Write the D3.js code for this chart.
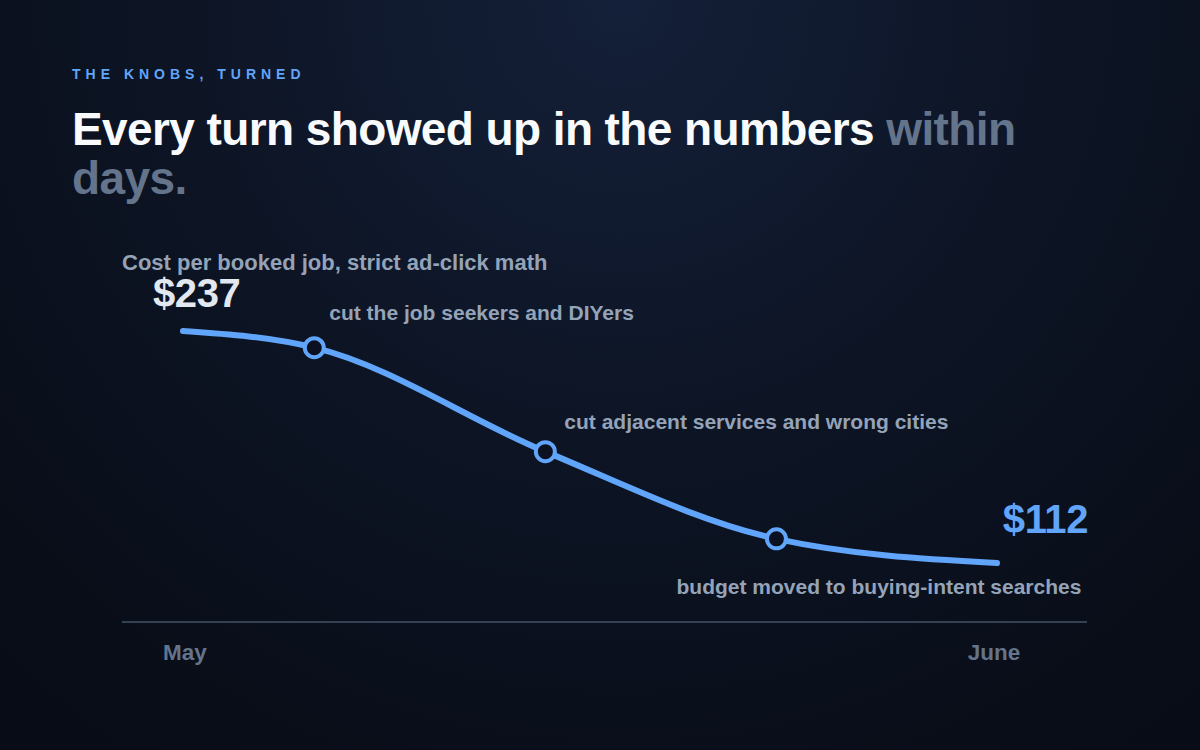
<!DOCTYPE html>
<html>
<head>
<meta charset="utf-8">
<script src="https://cdn.jsdelivr.net/npm/d3@7"></script>
<style>
	html, body { margin: 0; padding: 0; background: #0a0f1b; }
	svg { display: block; font-family: "Liberation Sans", Arial, Helvetica, sans-serif; }
</style>
</head>
<body>
<svg id="chart" width="1200" height="750"></svg>
<script>
// Cost per booked job across the month (days since May 1)
const days = [0, 5, 13.8, 22.6, 31];
const costs = [237, 228, 172, 125, 112];
const notes = ["", "cut the job seekers and DIYers", "cut adjacent services and wrong cities", "budget moved to buying-intent searches", ""];
const tickDays = [0, 31];
const tickLabels = ["May", "June"];

const data = days.map((d, i) => ({ day: d, value: costs[i], note: notes[i] }));

const svg = d3.select("#chart");
const W = 1200, H = 750;

// background
const defs = svg.append("defs");
const bg = defs.append("radialGradient")
	.attr("id", "bg")
	.attr("gradientUnits", "userSpaceOnUse")
	.attr("cx", 620).attr("cy", 0).attr("r", 900);
bg.append("stop").attr("offset", "0%").attr("stop-color", "#142039");
bg.append("stop").attr("offset", "55%").attr("stop-color", "#0c1322");
bg.append("stop").attr("offset", "100%").attr("stop-color", "#080c16");

svg.append("rect")
	.attr("width", W)
	.attr("height", H)
	.attr("fill", "url(#bg)");

// heading
svg.append("text")
	.attr("x", 72)
	.attr("y", 79)
	.attr("fill", "#60a5fa")
	.attr("font-size", 14)
	.attr("font-weight", 700)
	.attr("letter-spacing", 5)
	.text("THE KNOBS, TURNED");

const title = svg.append("text")
	.attr("x", 72)
	.attr("y", 145)
	.attr("font-size", 46)
	.attr("font-weight", 700)
	.attr("letter-spacing", -0.6);
title.append("tspan").attr("fill", "#f8fafc").text("Every turn showed up in the numbers ");
title.append("tspan").attr("fill", "#64748b").text("within");
svg.append("text")
	.attr("x", 72)
	.attr("y", 194)
	.attr("font-size", 46)
	.attr("font-weight", 700)
	.attr("letter-spacing", -0.6)
	.attr("fill", "#64748b")
	.text("days.");

// scales
let x = d3.scaleLinear()
	.domain([0, 31])
	.range([ 183, 997 ]);

let y = d3.scaleLinear()
	.domain([112, 237])
	.range([ 563, 331 ]);

// baseline axis
svg.append("line")
	.attr("x1", 122)
	.attr("x2", 1087)
	.attr("y1", 622)
	.attr("y2", 622)
	.attr("stroke", "#334155")
	.attr("stroke-width", 2);

svg.selectAll(".tick-label")
	.data(tickDays)
	.enter()
	.append("text")
		.attr("class", "tick-label")
		.attr("x", (d, i) => x(d) + (i === 0 ? 2 : -3))
		.attr("y", 660)
		.attr("text-anchor", "middle")
		.attr("fill", "#64748b")
		.attr("font-size", 22.5)
		.attr("font-weight", 700)
		.text((d, i) => tickLabels[i]);

svg.append("text")
	.attr("x", 122)
	.attr("y", 270)
	.attr("fill", "#94a3b8")
	.attr("font-size", 22)
	.attr("font-weight", 700)
	.text("Cost per booked job, strict ad-click math");

// line
let line = d3.line()
	.x(d => x(d.day))
	.y(d => y(d.value))
	.curve(d3.curveMonotoneX);

svg.append("path")
	.datum(data)
	.attr("d", line)
	.attr("fill", "none")
	.attr("stroke", "#60a5fa")
	.attr("stroke-width", 6)
	.attr("stroke-linecap", "round");

// markers at each turn
let turns = data.filter(d => d.note !== "");

svg.selectAll(".turn")
	.data(turns)
	.enter()
	.append("circle")
		.attr("class", "turn")
		.attr("cx", d => x(d.day))
		.attr("cy", d => y(d.value))
		.attr("r", 9.5)
		.attr("fill", "#0b1120")
		.attr("stroke", "#60a5fa")
		.attr("stroke-width", 4);

// annotations: first two above-right, last one below, right-aligned
const noteOffsets = [
	{ dx: 15, dy: -28, anchor: "start" },
	{ dx: 19, dy: -23, anchor: "start" },
	{ dx: 305, dy: 55, anchor: "end" }
];

svg.selectAll(".note")
	.data(turns)
	.enter()
	.append("text")
		.attr("class", "note")
		.attr("x", (d, i) => x(d.day) + noteOffsets[i].dx)
		.attr("y", (d, i) => y(d.value) + noteOffsets[i].dy)
		.attr("text-anchor", (d, i) => noteOffsets[i].anchor)
		.attr("fill", "#94a3b8")
		.attr("font-size", 21)
		.attr("font-weight", 700)
		.text(d => d.note);

// end values
let first = data[0], last = data[data.length - 1];

svg.append("text")
	.attr("x", x(first.day) - 30)
	.attr("y", y(first.value) - 24)
	.attr("fill", "#e2e8f0")
	.attr("font-size", 40)
	.attr("font-weight", 700)
	.attr("letter-spacing", -0.4)
	.text("$" + first.value);

svg.append("text")
	.attr("x", 1088)
	.attr("y", y(last.value) - 30)
	.attr("text-anchor", "end")
	.attr("fill", "#60a5fa")
	.attr("font-size", 40)
	.attr("font-weight", 700)
	.attr("letter-spacing", -0.4)
	.text("$" + last.value);
</script>
</body>
</html>
